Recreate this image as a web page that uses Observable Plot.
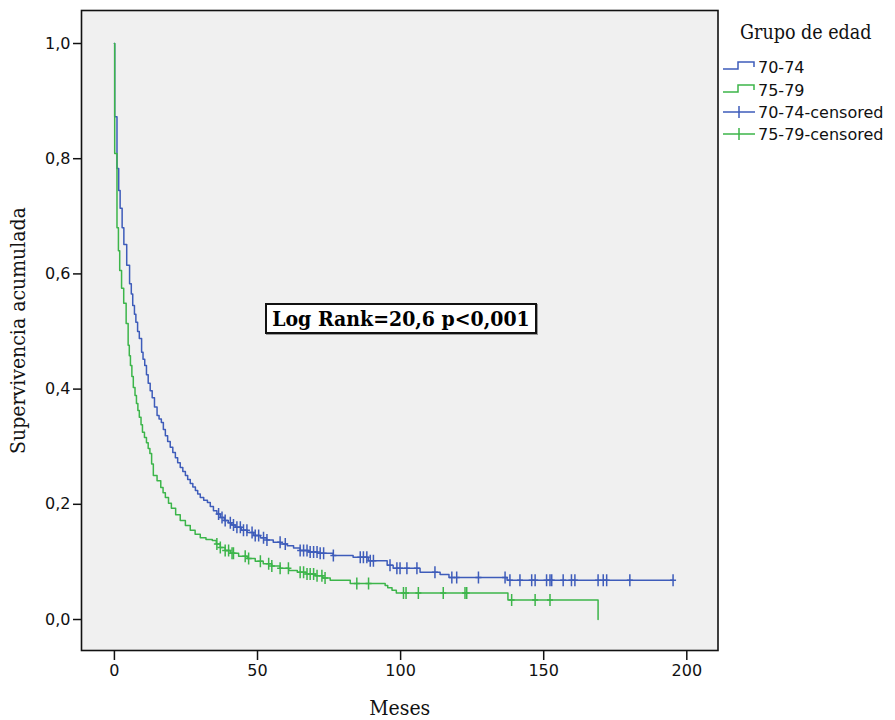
<!DOCTYPE html>
<html>
<head>
<meta charset="utf-8">
<script src="https://cdn.jsdelivr.net/npm/d3@7"></script>
<script src="https://cdn.jsdelivr.net/npm/@observablehq/plot@0.6"></script>
<style>
  html, body { margin: 0; padding: 0; background: white; }
  #wrap { position: relative; width: 895px; height: 720px; }
  #chart { position: absolute; left: 0; top: 0; }
  .serif { font-family: "DejaVu Serif Condensed", "DejaVu Serif", serif; font-stretch: condensed; }
  g[aria-label="y-axis label"], g[aria-label="x-axis label"] {
    font-family: "DejaVu Serif Condensed", "DejaVu Serif", serif; font-stretch: condensed; font-size: 21px;
  }
  #note {
    position: absolute; left: 265px; top: 303px; width: 268px; height: 27px;
    border: 2px solid #111; background: white; box-shadow: 1px 1px 0 #999;
    font-weight: bold; font-size: 21px; line-height: 27px; text-align: center; color: #000;
  }
  #legend { position: absolute; left: 718px; top: 0; }
</style>
</head>
<body>
<div id="wrap">
  <div id="chart"></div>
  <div id="note" class="serif"></div>
  <svg id="legend" width="177" height="150"></svg>
</div>
<script>
// ---- data ----
const groups = ["70-74", "75-79"];
const legendTitle = "Grupo de edad";
const noteText = "Log Rank=20,6 p<0,001";
const xLabel = "Meses";
const yLabel = "Supervivencia acumulada";
const xTicks = [0, 50, 100, 150, 200];
const yTicks = [0, 0.2, 0.4, 0.6, 0.8, 1.0];

// 70-74: event times (months) and survival after each step
const t7074 = [0, 0.1, 0.9, 1.5, 2.0, 2.7, 3.3, 4.3, 5.3, 5.9, 6.4, 7.0, 7.5, 8.1, 8.7, 9.5, 10.0, 10.6, 11.2, 11.8, 12.5, 13.2, 14.0, 14.9, 15.6, 16.4, 17.1, 17.8, 18.6, 19.5, 20.4, 21.3, 22.1, 23.0, 23.9, 24.8, 25.6, 26.5, 27.4, 28.3, 29.1, 30.0, 31.2, 32.5, 33.5, 34.6, 35.8, 37.0, 38.4, 39.8, 41.0, 42.2, 44.3, 46.4, 48.7, 51.0, 53.2, 55.5, 58.0, 60.4, 62.6, 64.9, 67.9, 70.9, 76.4, 83.4, 88.7, 95.3, 97.4, 106.8, 113.8, 116.9, 137.2, 195.2];
const s7074 = [1, 0.873, 0.783, 0.745, 0.714, 0.680, 0.651, 0.615, 0.583, 0.565, 0.545, 0.530, 0.516, 0.500, 0.488, 0.464, 0.452, 0.441, 0.425, 0.410, 0.397, 0.385, 0.369, 0.354, 0.348, 0.342, 0.330, 0.319, 0.309, 0.299, 0.290, 0.281, 0.272, 0.264, 0.257, 0.250, 0.243, 0.236, 0.230, 0.224, 0.218, 0.212, 0.207, 0.203, 0.196, 0.189, 0.183, 0.177, 0.172, 0.168, 0.164, 0.160, 0.155, 0.151, 0.146, 0.142, 0.138, 0.134, 0.131, 0.128, 0.124, 0.120, 0.117, 0.115, 0.111, 0.108, 0.102, 0.094, 0.089, 0.082, 0.078, 0.073, 0.068, 0.068];

// 75-79
const t7579 = [0, 0.1, 0.9, 1.4, 1.85, 2.5, 3.25, 4.1, 4.8, 5.2, 5.6, 6.1, 6.6, 7.2, 7.7, 8.2, 8.7, 9.3, 9.8, 10.5, 11.2, 11.8, 12.4, 13.0, 13.6, 14.9, 16.2, 17.0, 17.8, 18.9, 19.9, 21.4, 23.0, 24.8, 26.5, 28.2, 30.0, 32.0, 34.2, 35.6, 37.0, 38.7, 40.5, 43.4, 46.4, 49.2, 52.0, 55.0, 57.9, 60.9, 63.9, 67.0, 70.2, 72.8, 75.4, 82.4, 94.6, 95.5, 97.0, 98.5, 137.5, 169.0];
const s7579 = [1, 0.809, 0.680, 0.640, 0.606, 0.575, 0.549, 0.514, 0.476, 0.458, 0.441, 0.422, 0.403, 0.389, 0.375, 0.363, 0.351, 0.338, 0.325, 0.316, 0.307, 0.297, 0.288, 0.270, 0.250, 0.241, 0.229, 0.220, 0.212, 0.202, 0.193, 0.182, 0.172, 0.163, 0.155, 0.148, 0.142, 0.139, 0.137, 0.131, 0.125, 0.120, 0.115, 0.110, 0.106, 0.101, 0.097, 0.093, 0.089, 0.085, 0.082, 0.079, 0.076, 0.072, 0.068, 0.0625, 0.059, 0.055, 0.051, 0.046, 0.034, 0];

// censored times
const c7074 = [36.4, 37.6, 38.7, 40.5, 41.6, 42.8, 44.0, 45.1, 46.3, 48.1, 49.2, 50.4, 52.1, 53.3, 57.9, 59.7, 64.9, 66.1, 67.3, 68.4, 69.6, 70.8, 71.9, 73.1, 76.5, 85.9, 87.0, 88.2, 89.4, 90.5, 96.3, 98.7, 99.8, 102.2, 105.7, 112.0, 117.9, 119.6, 127.2, 136.5, 138.2, 141.7, 145.8, 147.0, 151.0, 152.2, 152.8, 156.8, 159.7, 160.9, 169.0, 170.8, 172.0, 180.1, 195.2];
const c7579 = [35.8, 37.0, 38.7, 39.9, 41.1, 41.6, 45.7, 46.9, 51.0, 53.9, 55.0, 57.9, 60.8, 64.9, 66.1, 67.3, 68.4, 69.6, 70.8, 72.5, 73.6, 84.7, 88.8, 101.0, 101.9, 106.2, 114.9, 122.5, 123.1, 138.8, 147.0, 152.2];

const colors = ["#3e5cba", "#3cb54a"];

// ---- build ----
const toCurve = (T, S) => T.map((t, i) => ({t, S: S[i]}));
const sAt = (T, S, t) => { let v = S[0]; for (let i = 0; i < T.length; i++) if (T[i] <= t) v = S[i]; return v; };
const toCens = (C, T, S) => C.map(t => ({t, S: sAt(T, S, t)}));

const curveA = toCurve(t7074, s7074);
const curveB = toCurve(t7579, s7579);
const censA = toCens(c7074, t7074, s7074);
const censB = toCens(c7579, t7579, s7579);

const censorSymbol = {
  draw(ctx) { ctx.moveTo(0, -6); ctx.lineTo(0, 6); ctx.moveTo(-3, 0); ctx.lineTo(3, 0); }
};

const fmt = d => d.toFixed(1).replace(".", ",");

const chart = Plot.plot({
  width: 720, height: 720,
  marginLeft: 81, marginRight: 2.5, marginTop: 10, marginBottom: 70,
  style: {background: "transparent", fontFamily: "DejaVu Sans", fontSize: "16px", color: "#111"},
  x: {domain: [-11.5, 210.9]},
  y: {domain: [-0.0538, 1.0573]},
  marks: [
    Plot.frame({fill: "#f0f0f0"}),
    Plot.line(curveA, {x: "t", y: "S", curve: "step-after", stroke: colors[0], strokeWidth: 1.5}),
    Plot.line(curveB, {x: "t", y: "S", curve: "step-after", stroke: colors[1], strokeWidth: 1.5}),
    Plot.dot(censA, {x: "t", y: "S", symbol: censorSymbol, r: 6, stroke: colors[0], fill: "none", strokeWidth: 1.5}),
    Plot.dot(censB, {x: "t", y: "S", symbol: censorSymbol, r: 6, stroke: colors[1], fill: "none", strokeWidth: 1.5}),
    Plot.frame({stroke: "#111", strokeWidth: 1.6}),
    Plot.axisX({ticks: xTicks, tickSize: 10, tickPadding: 4, tickFormat: d => String(d), label: xLabel, labelAnchor: "center", labelOffset: 64, labelArrow: "none", strokeWidth: 1.5}),
    Plot.axisY({ticks: yTicks, tickSize: 8, tickPadding: 3, tickFormat: fmt, label: yLabel, labelAnchor: "center", labelOffset: 71, labelArrow: "none", strokeWidth: 1.5})
  ]
});
document.getElementById("chart").appendChild(chart);
document.getElementById("note").textContent = noteText;

// legend
const lg = d3.select("#legend");
lg.append("text").attr("class", "serif").attr("x", 22).attr("y", 39)
  .attr("font-size", 19.5).attr("fill", "#111").text(legendTitle);
const rows = [
  {label: groups[0], color: colors[0], kind: "line", y: 67},
  {label: groups[1], color: colors[1], kind: "line", y: 90},
  {label: groups[0] + "-censored", color: colors[0], kind: "cens", y: 112},
  {label: groups[1] + "-censored", color: colors[1], kind: "cens", y: 134}
];
rows.forEach(r => {
  if (r.kind === "line") {
    lg.append("path").attr("d", `M5,${r.y + 2}H20V${r.y - 5}H36V${r.y}`)
      .attr("fill", "none").attr("stroke", r.color).attr("stroke-width", 1.5);
  } else {
    lg.append("path").attr("d", `M5,${r.y}H37M21,${r.y - 6}V${r.y + 6}`)
      .attr("fill", "none").attr("stroke", r.color).attr("stroke-width", 1.5);
  }
  lg.append("text").attr("x", 40).attr("y", r.y + 6).attr("font-family", "DejaVu Sans")
    .attr("font-size", 16).attr("fill", "#111").text(r.label);
});
</script>
</body>
</html>
